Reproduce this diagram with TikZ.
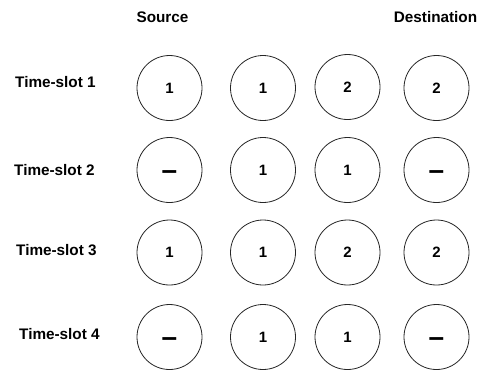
\documentclass[tikz,border=0pt]{standalone}
\usepackage{fontspec}
\setmainfont{Liberation Sans}
\begin{document}
\begin{tikzpicture}[x=1pt,y=-1pt,
  slot/.style={draw=black!85,line width=0.8pt,circle,minimum size=65pt,inner sep=0pt,
    font=\fontsize{15}{15}\selectfont\bfseries,text height=10.5pt,text depth=0pt},
  rowlbl/.style={anchor=west,inner sep=0pt,font=\fontsize{15.3}{15.3}\selectfont\bfseries},
  collbl/.style={inner sep=0pt,font=\fontsize{15.3}{15.3}\selectfont\bfseries}]
\useasboundingbox (0,0) rectangle (481,370);
\newcommand{\dsh}{\raisebox{-4pt}{\fontsize{28}{28}\selectfont –}}
\node[collbl] (src) at (162.5,17) {Source};
\node[collbl] (dst) at (435.5,17) {Destination};
\node[rowlbl] (t1) at (15,82) {Time-slot 1};
\node[rowlbl] (t2) at (14,170) {Time-slot 2};
\node[rowlbl] (t3) at (16,250) {Time-slot 3};
\node[rowlbl] (t4) at (19,334) {Time-slot 4};
% row 1
\node[slot] (a1) at (169.5,88) {1};
\node[slot] (a2) at (263,88) {1};
\node[slot] (a3) at (347.5,87) {2};
\node[slot] (a4) at (436.5,88) {2};
% row 2
\node[slot] (b1) at (169.5,170) {\dsh};
\node[slot] (b2) at (263,170) {1};
\node[slot] (b3) at (347.5,170) {1};
\node[slot] (b4) at (436.5,170) {\dsh};
% row 3
\node[slot] (c1) at (169.5,252.5) {1};
\node[slot] (c2) at (263,252.5) {1};
\node[slot] (c3) at (347.5,252.5) {2};
\node[slot] (c4) at (436.5,252.5) {2};
% row 4
\node[slot] (d1) at (169.5,337) {\dsh};
\node[slot] (d2) at (263,337) {1};
\node[slot] (d3) at (347.5,337) {1};
\node[slot] (d4) at (436.5,337) {\dsh};
\end{tikzpicture}
\end{document}
